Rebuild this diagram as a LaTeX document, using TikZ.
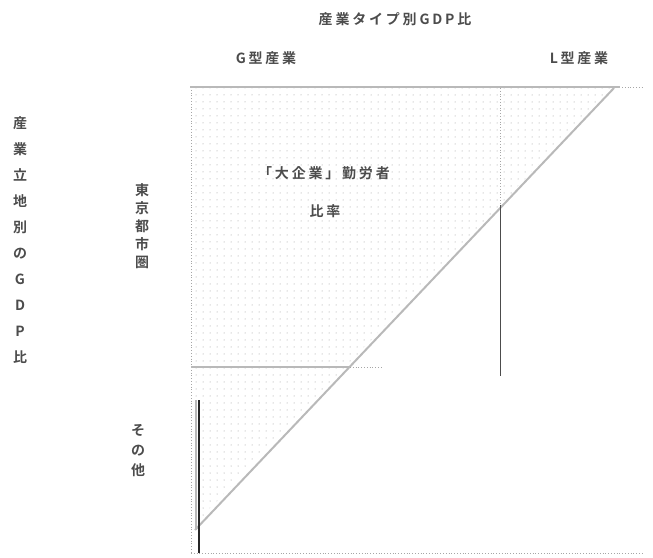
\documentclass[tikz,border=0pt]{standalone}
\usepackage{fontspec}
\newfontfamily\jp{Noto Sans CJK JP}[BoldFont={Noto Sans CJK JP Bold}]
\newfontfamily\jpsp{Noto Sans CJK JP}[LetterSpace=20,BoldFont={Noto Sans CJK JP Bold}]
\usetikzlibrary{patterns.meta}
\tikzdeclarepattern{
  name=sparsedots,
  type=uncolored,
  bounding box={(-1pt,-1pt) and (1pt,1pt)},
  tile size={(7pt,7pt)},
  code={\fill (0,0) circle (0.5pt);}
}
\tikzset{
  lbl/.style={inner sep=0pt, text=black!70},
  htext/.style={lbl, font=\jpsp\bfseries\fontsize{14}{16}\selectfont},
  vtext/.style={lbl, align=center},
  edge/.style={draw=gray!55, line width=2pt},
  dotline/.style={draw=gray!70, dotted, line width=0.8pt},
  darkline/.style={draw=black!85, line width=1.4pt},
}
\begin{document}
\begin{tikzpicture}[x=1pt,y=-1pt]
\useasboundingbox (0,0) rectangle (653,557);
% stippled region
\fill[pattern={sparsedots}, pattern color=gray!85] (191,88) -- (612,88) -- (197,522) -- cycle;
% frame lines
\draw[dotline] (191,87) -- (191,553);
\draw[dotline] (191,553) -- (642,553);
\draw[dotline] (622,87) -- (642,87);
\draw[edge, line width=2.6pt] (190,87) -- (620,87);
\draw[edge] (614,88) -- (195,530);
\draw[edge, line width=1.6pt] (191,367) -- (350,367);
\draw[dotline] (350,367) -- (382,367);
\draw[dotline] (500,88) -- (500,205);
\draw[draw=black!70, line width=1pt] (500,205) -- (500,376);
\draw[draw=gray!55, line width=2pt] (196,400) -- (196,530);
\draw[darkline] (199,400) -- (199,553);
% labels
\node[htext] (title) at (395,19) {産業タイプ別GDP比};
\node[htext] (gind) at (266,58) {G型産業};
\node[htext] (lind) at (579,58) {L型産業};
\node[htext] (big) at (324,173) {「大企業」勤労者};
\node[htext] (ratio) at (325,211) {比率};
\node[vtext, font=\jp\bfseries\fontsize{14}{26}\selectfont] (yaxis) at (20,240) {産\\業\\立\\地\\別\\の\\G\\D\\P\\比};
\node[vtext, font=\jp\bfseries\fontsize{14}{18}\selectfont] (tokyo) at (142,226) {東\\京\\都\\市\\圏};
\node[vtext, font=\jp\bfseries\fontsize{14}{20}\selectfont] (other) at (138,451) {そ\\の\\他};
\end{tikzpicture}
\end{document}
